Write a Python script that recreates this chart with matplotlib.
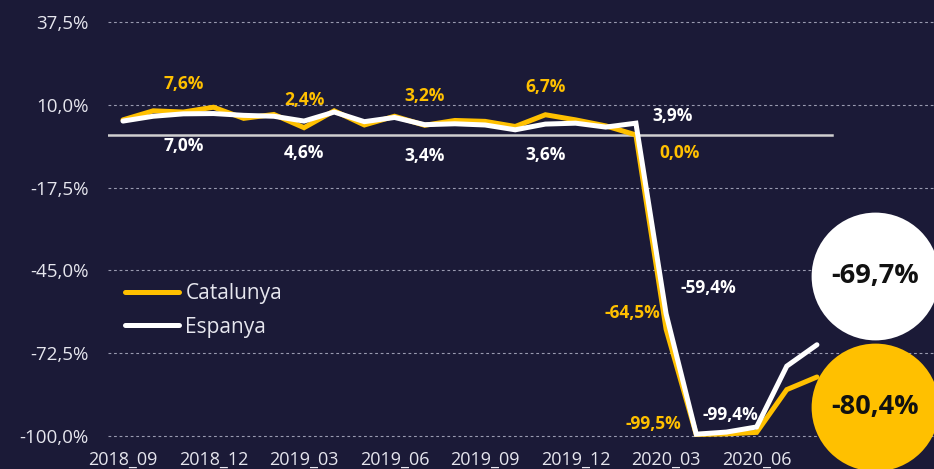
import matplotlib
matplotlib.use("Agg")
import matplotlib.pyplot as plt
from matplotlib.transforms import offset_copy

# monthly growth rates (%)
months = ['2018_09', '2018_10', '2018_11', '2018_12', '2019_01', '2019_02',
          '2019_03', '2019_04', '2019_05', '2019_06', '2019_07', '2019_08',
          '2019_09', '2019_10', '2019_11', '2019_12', '2020_01', '2020_02',
          '2020_03', '2020_04', '2020_05', '2020_06', '2020_07', '2020_08']
catalunya = [5.0, 8.0, 7.6, 9.2, 5.5, 6.8, 2.4, 8.0, 3.3, 6.2, 3.2, 4.8,
             4.5, 2.8, 6.7, 5.0, 3.0, 0.0, -64.5, -99.5, -99.3, -98.8, -84.6, -80.4]
espanya = [4.6, 6.2, 7.0, 7.1, 6.5, 6.2, 4.6, 7.6, 4.4, 5.8, 3.4, 3.7,
           3.3, 1.7, 3.6, 3.9, 2.6, 3.9, -59.4, -99.4, -98.7, -97.0, -76.8, -69.7]

yticks = [37.5, 10.0, -17.5, -45.0, -72.5, -100.0]
tick_every = 3

# which points carry a value label
cat_label_idx = [2, 6, 10, 14, 17, 18, 19]
esp_label_idx = [2, 6, 10, 14, 17, 18, 19]

BG = '#1b1a37'
YELLOW = '#ffc000'
WHITE = '#ffffff'
TXT = '#e6e6ee'

plt.rcParams['font.family'] = ['Open Sans', 'DejaVu Sans']


def pct(v, digits=1):
    return f'{v:.{digits}f}%'.replace('.', ',')


fig = plt.figure(figsize=(9.34, 4.69), dpi=100, facecolor=BG)
ax = fig.add_axes([108 / 934, 1 - 445 / 469, 826 / 934, 435 / 469])
ax.set_facecolor(BG)

x = list(range(len(months)))

ax.set_xlim(-0.497, 26.88)
ax.set_ylim(-102.99, 41.49)

for y in yticks:
    ax.axhline(y, color='#9a9ab0', lw=0.8, ls=(0, (2.5, 2.5)), zorder=1)
ax.axhline(0, xmin=0, xmax=0.8765, color='#cfcfcf', lw=1.8, zorder=2)

ax.plot(x, catalunya, color=YELLOW, lw=3.6, solid_capstyle='round',
        solid_joinstyle='miter', label='Catalunya', zorder=3)
ax.plot(x, espanya, color=WHITE, lw=3.6, solid_capstyle='round',
        solid_joinstyle='miter', label='Espanya', zorder=4)

ax.set_yticks(yticks)
ax.set_yticklabels([pct(v) for v in yticks])
ax.set_xticks(x[::tick_every])
ax.set_xticklabels(months[::tick_every])
ax.tick_params(axis='y', length=0, pad=14, labelcolor=TXT, labelsize=13.5)
ax.tick_params(axis='x', length=0, pad=4, labelcolor=TXT, labelsize=13)
for s in ax.spines.values():
    s.set_visible(False)

# value labels (offsets in pixels from the point)
cat_off = [(0, 28), (0, 28), (0, 29), (0, 28), (44, -18), (-34, 16), (-43, 10)]
esp_off = [(0, -32), (0, -32), (0, -31), (0, -31), (37, 7), (42, 26), (34, 19)]
for i, off in zip(cat_label_idx, cat_off):
    ax.annotate(pct(catalunya[i]), (x[i], catalunya[i]), xytext=off,
                textcoords='offset pixels', ha='center', va='center',
                color=YELLOW, fontsize=12.5, fontweight='bold', zorder=6)
for i, off in zip(esp_label_idx, esp_off):
    ax.annotate(pct(espanya[i]), (x[i], espanya[i]), xytext=off,
                textcoords='offset pixels', ha='center', va='center',
                color=WHITE, fontsize=12.5, fontweight='bold', zorder=6)

# big circles with the last value
last = len(months) - 1
for vals, off, face in [(espanya, (58, 69), WHITE), (catalunya, (58, -30), YELLOW)]:
    tr = offset_copy(ax.transData, fig=fig, x=off[0], y=off[1], units='dots')
    ax.scatter([x[last]], [vals[last]], s=92 ** 2, color=face, transform=tr,
               clip_on=False, zorder=7, linewidths=0)
    ax.text(x[last], vals[last], pct(vals[last]), transform=tr, ha='center',
            va='center', color='#111111', fontsize=19.5, fontweight='bold',
            zorder=8, clip_on=False)

leg = ax.legend(loc='upper left', bbox_to_anchor=(0.0206, 0.372), frameon=False,
                fontsize=15, handlelength=2.6, handletextpad=0.3,
                labelspacing=0.6, borderpad=0, borderaxespad=0)
for t in leg.get_texts():
    t.set_color(TXT)

fig.savefig('out.png', dpi=100, facecolor=BG)
